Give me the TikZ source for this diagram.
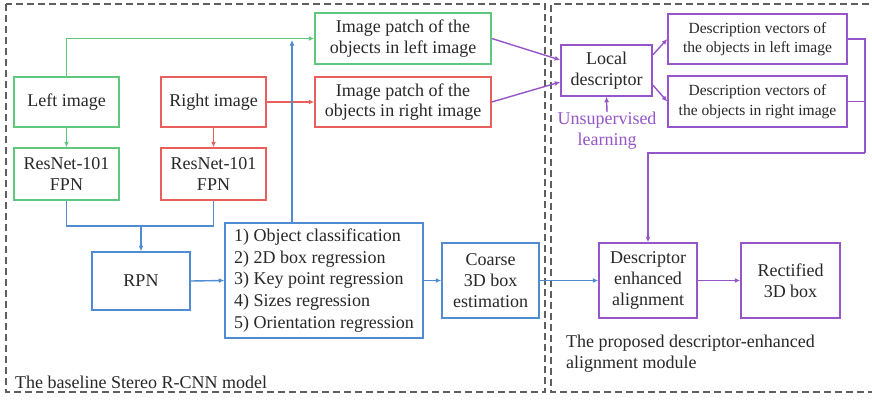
\documentclass[tikz,border=0pt]{standalone}
\usepackage{fontspec}
\setmainfont{Liberation Serif}
\usetikzlibrary{arrows.meta}
\definecolor{cgreen}{RGB}{95,200,125}
\definecolor{cred}{RGB}{235,95,90}
\definecolor{cblue}{RGB}{80,140,210}
\definecolor{cpurple}{RGB}{150,85,200}
\definecolor{cdash}{RGB}{95,95,95}
\definecolor{ctext}{RGB}{40,40,40}
\begin{document}
\begin{tikzpicture}[x=1pt,y=-1pt,
  box/.style={draw,line width=1.5pt,inner sep=0pt,align=center,text=ctext,
    font=\fontsize{18}{20.7}\selectfont},
  gbox/.style={box,draw=cgreen},
  rbox/.style={box,draw=cred},
  bbox/.style={box,draw=cblue},
  pbox/.style={box,draw=cpurple},
  conn/.style={line width=1.4pt},
  arr/.style={conn,-{Latex[length=5.5pt,width=5pt]}},
  dashbox/.style={draw=cdash,line width=1.4pt,dash pattern=on 7pt off 4pt},
  lbl/.style={text=ctext,font=\fontsize{18}{20.5}\selectfont,inner sep=0pt,align=left}
]
\useasboundingbox (0,0) rectangle (872,399);
\fill[white] (0,0) rectangle (872,399);

% dashed regions
\draw[dashbox] (6,4) rectangle (545,392);
\draw[dashbox] (880,4) -- (551,4) -- (551,392) -- (880,392);

% nodes
\node[gbox,minimum width=105pt,minimum height=50pt] (leftimg) at (66.5,102) {Left image};
\node[gbox,minimum width=105pt,minimum height=52pt] (leftres) at (66.5,174) {ResNet-101\\FPN};
\node[rbox,minimum width=105pt,minimum height=50pt] (rightimg) at (213.5,102) {Right image};
\node[rbox,minimum width=105pt,minimum height=52pt] (rightres) at (213.5,174) {ResNet-101\\FPN};
\node[gbox,minimum width=176pt,minimum height=51pt] (patchL) at (403,38.5) {Image patch of the\\objects in left image};
\node[rbox,minimum width=176pt,minimum height=50pt] (patchR) at (403,102) {Image patch of the\\objects in right image};
\node[pbox,minimum width=91pt,minimum height=51pt] (local) at (606.5,70.5) {Local\\descriptor};
\node[pbox,minimum width=179pt,minimum height=50pt,font=\fontsize{15.5}{19.5}\selectfont] (descL) at (757.5,39) {Description vectors of\\the objects in left image};
\node[pbox,minimum width=179pt,minimum height=51pt,font=\fontsize{15.5}{19.5}\selectfont] (descR) at (757.5,101.5) {Description vectors of\\the objects in right image};
\node[text=cpurple,font=\fontsize{18}{21}\selectfont,align=center,inner sep=0pt] (unsup) at (607,131) {Unsupervised\\learning};
\node[bbox,minimum width=98pt,minimum height=58pt] (rpn) at (141,281) {RPN};
\node[bbox,minimum width=198pt,minimum height=115pt,align=left,font=\fontsize{18}{21.7}\selectfont] (list) at (324,280.5) {1) Object classification\\2) 2D box regression\\3) Key point regression\\4) Sizes regression\\5) Orientation regression};
\node[bbox,minimum width=97pt,minimum height=75pt] (coarse) at (490.5,280.5) {Coarse\\3D box\\estimation};
\node[pbox,minimum width=98pt,minimum height=75pt] (align) at (648,280.5) {Descriptor\\enhanced\\alignment};
\node[pbox,minimum width=99pt,minimum height=75pt] (rect) at (790.5,280.5) {Rectified\\3D box};

\node[lbl,anchor=base west] (lab1) at (15,388) {The baseline Stereo R-CNN model};
\node[lbl,anchor=base west] (lab2) at (566,368) {The proposed descriptor-enhanced\\alignment module};

% coordinates
\coordinate (jn) at (141,226);
\coordinate (up) at (292,40);
\coordinate (br) at (865,153);

% green / red connectors
\draw[arr,cgreen] (leftimg.north) |- (patchL.west);
\draw[arr,cgreen] (leftimg.south) -- (leftres.north);
\draw[arr,cred] (rightimg.south) -- (rightres.north);
\draw[arr,cred] (rightimg.east) -- (patchR.west);

% blue connectors
\draw[conn,cblue] (leftres.south) |- (jn) -| (rightres.south);
\draw[arr,cblue] (jn) -- (rpn.north);
\draw[arr,cblue] (rpn.east) -- (list.west);
\draw[arr,cblue] (list.north -| up) -- (up);
\draw[arr,cblue] (list.east) -- (coarse.west);
\draw[arr,cblue] (coarse.east) -- (align.west);

% purple connectors
\draw[arr,cpurple] (patchL.east) -- ([yshift=10.5pt]local.west);
\draw[arr,cpurple] (patchR.east) -- ([yshift=-11.5pt]local.west);
\draw[arr,cpurple] ([yshift=15.5pt]local.east) -- (descL.west);
\draw[arr,cpurple] ([yshift=-14.5pt]local.east) -- (descR.west);
\draw[arr,cpurple] (unsup.north) -- (local.south);
\draw[conn,cpurple] (descL.east) -| (br);
\draw[conn,cpurple] (descR.east) -- (descR.east -| br);
\draw[arr,cpurple] (br) -| (align.north);
\draw[arr,cpurple] (align.east) -- (rect.west);
\end{tikzpicture}
\end{document}
